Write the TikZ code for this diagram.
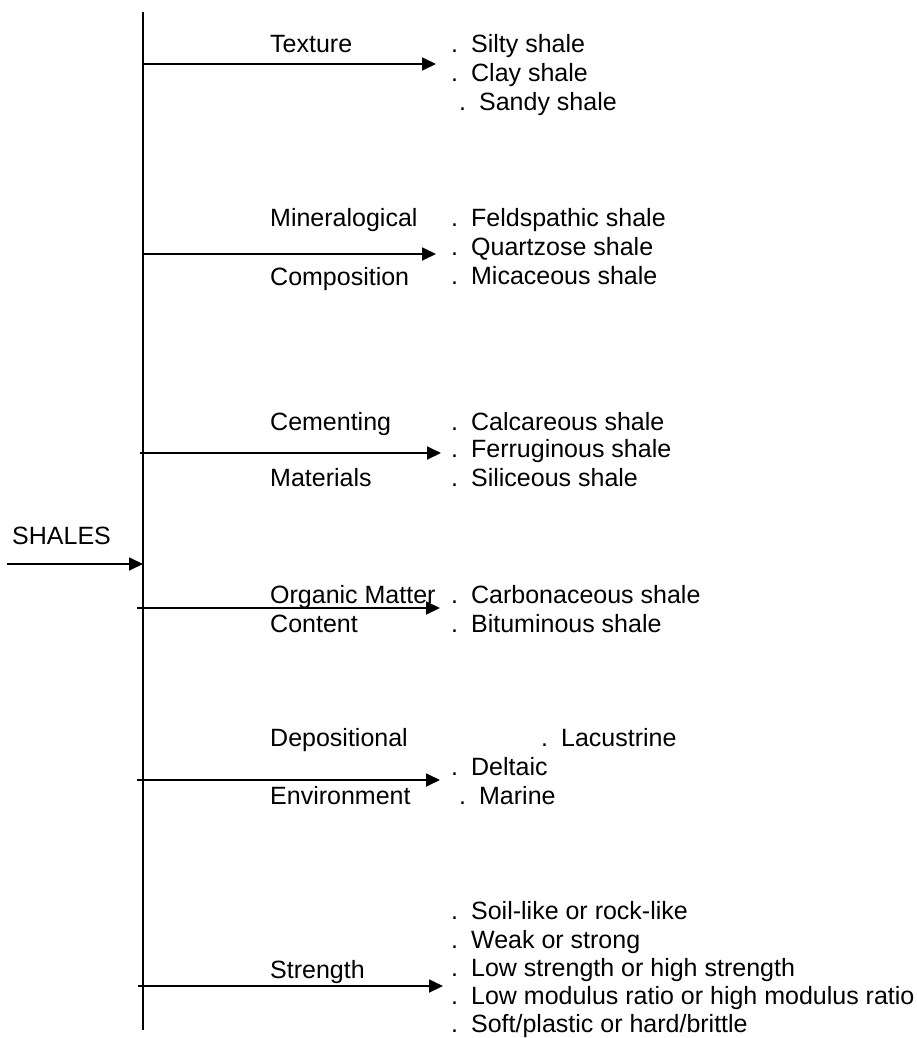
\documentclass[tikz,border=0pt]{standalone}
\usepackage{fontspec}
\setmainfont{Liberation Sans}
\usetikzlibrary{arrows.meta}
\newcommand{\itm}[1]{.\hspace{13pt}#1}
\begin{document}
\begin{tikzpicture}[x=1pt,y=-1pt,
  txt/.style={anchor=west,inner sep=0pt,text height=18pt,text depth=0pt,font=\fontsize{25}{29}\selectfont},
  line/.style={line width=1.8pt},
  arr/.style={line width=1.8pt,-{Triangle[length=14pt,width=13pt]}}]
\useasboundingbox (0,0) rectangle (917,1038);
% trunk
\coordinate (top) at (143,12);
\coordinate (bot) at (143,1030);
\draw[line] (top) -- (bot);
% input
\node[txt] (shales) at (12,535.5) {SHALES};
\coordinate (in0) at (7,564);
\coordinate (in1) at (143,564);
\draw[arr] (in0) -- (in1);
% Texture
\node[txt] (tex) at (270,44) {Texture};
\node[txt] (t1) at (451,44) {\itm{Silty shale}};
\node[txt] (t2) at (451,72.5) {\itm{Clay shale}};
\node[txt] (t3) at (459,102) {\itm{Sandy shale}};
\coordinate (a1s) at (143,64);
\coordinate (a1e) at (436,64);
\draw[arr] (a1s) -- (a1e);
% Mineralogical
\node[txt] (min) at (270,217.5) {Mineralogical};
\node[txt] (comp) at (270,276) {Composition};
\node[txt] (m1) at (451,217.5) {\itm{Feldspathic shale}};
\node[txt] (m2) at (451,246.5) {\itm{Quartzose shale}};
\node[txt] (m3) at (451,275.5) {\itm{Micaceous shale}};
\coordinate (a2s) at (143,254);
\coordinate (a2e) at (436,254);
\draw[arr] (a2s) -- (a2e);
% Cementing
\node[txt] (cem) at (270,421) {Cementing};
\node[txt] (mat) at (270,477) {Materials};
\node[txt] (c1) at (451,421) {\itm{Calcareous shale}};
\node[txt] (c2) at (451,448.5) {\itm{Ferruginous shale}};
\node[txt] (c3) at (451,477) {\itm{Siliceous shale}};
\coordinate (a3s) at (140,453);
\coordinate (a3e) at (441,453);
\draw[arr] (a3s) -- (a3e);
% Organic
\node[txt] (org) at (270,594) {Organic Matter};
\node[txt] (cont) at (270,623) {Content};
\node[txt] (o1) at (451,594) {\itm{Carbonaceous shale}};
\node[txt] (o2) at (451,623) {\itm{Bituminous shale}};
\coordinate (a4s) at (137,608);
\coordinate (a4e) at (440,608);
\draw[arr] (a4s) -- (a4e);
% Depositional
\node[txt] (dep) at (270,737.5) {Depositional};
\node[txt] (env) at (270,795) {Environment};
\node[txt] (d1) at (541,737.5) {\itm{Lacustrine}};
\node[txt] (d2) at (451,766) {\itm{Deltaic}};
\node[txt] (d3) at (459,795) {\itm{Marine}};
\coordinate (a5s) at (137,780);
\coordinate (a5e) at (440,780);
\draw[arr] (a5s) -- (a5e);
% Strength
\node[txt] (str) at (270,969) {Strength};
\node[txt] (s1) at (451,910) {\itm{Soil-like or rock-like}};
\node[txt] (s2) at (451,939) {\itm{Weak or strong}};
\node[txt] (s3) at (451,967.5) {\itm{Low strength or high strength}};
\node[txt] (s4) at (451,995.5) {\itm{Low modulus ratio or high modulus ratio}};
\node[txt] (s5) at (451,1023) {\itm{Soft/plastic or hard/brittle}};
\coordinate (a6s) at (138,986);
\coordinate (a6e) at (443,986);
\draw[arr] (a6s) -- (a6e);
\end{tikzpicture}
\end{document}
